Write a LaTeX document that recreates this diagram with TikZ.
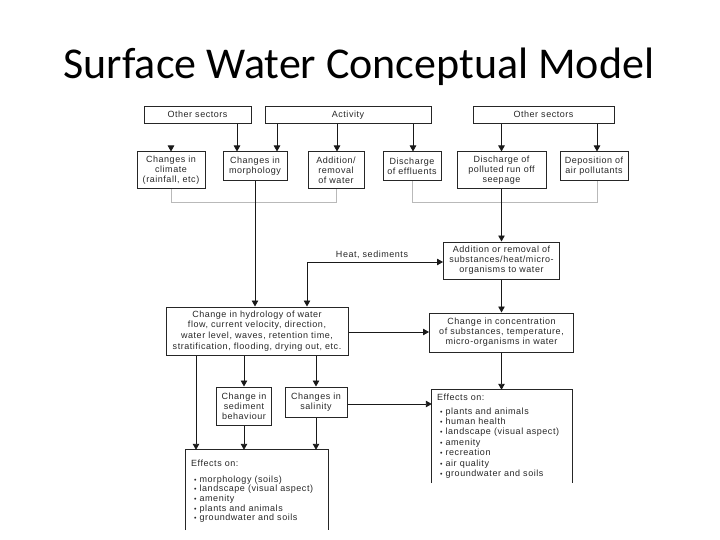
\documentclass[tikz,border=0pt]{standalone}
\usepackage{fontspec}
\setmainfont{Liberation Sans}
\newfontfamily\titlefont{Carlito}
\newfontfamily\dfam[LetterSpace=6]{Liberation Sans}
\usetikzlibrary{arrows.meta}
\newcommand{\dfont}{\dfam\fontsize{9}{10}\selectfont}
\newcommand{\bul}{\hspace*{3pt}{\fontsize{7}{7}\selectfont•}\hspace{3pt}}
\begin{document}
\begin{tikzpicture}[x=1pt,y=-1pt,
  box/.style={draw=black!85, line width=1pt, align=center, inner sep=0pt, font=\dfont, text=black!85},
  arr/.style={-{Triangle[length=6pt,width=6.5pt]}, line width=0.9pt, draw=black!90},
  dblarr/.style={{Triangle[length=6pt,width=6.5pt]}-{Triangle[length=6pt,width=6.5pt]}, line width=0.9pt, draw=black!90},
  brk/.style={draw=gray!55, line width=1pt},
  lbl/.style={font=\dfont, text=black!85, inner sep=0pt}]
\useasboundingbox (0,0) rectangle (720,540);
% title
\node[font=\titlefont\fontsize{44}{48}\selectfont, anchor=base] (title) at (359,79) {Surface Water Conceptual Model};
% top row
\node[box, minimum width=107, minimum height=17, text height=7pt, text depth=2pt] (os1) at (197.5,115.5) {Other sectors};
\node[box, minimum width=166, minimum height=17, text height=7pt, text depth=2pt] (act) at (348,115.5) {Activity};
\node[box, minimum width=141, minimum height=17, text height=7pt, text depth=2pt] (os2) at (543.5,115.5) {Other sectors};
% second row
\node[box, minimum width=68, minimum height=37] (clim) at (171,170.5) {Changes in\\climate\\(rainfall, etc)};
\node[box, minimum width=64, minimum height=29] (morph) at (255,166.5) {Changes in\\morphology};
\node[box, minimum width=56, minimum height=37] (addw) at (336,170.5) {Addition/\\removal\\of water};
\node[box, minimum width=58, minimum height=29] (effl) at (412,166.5) {Discharge\\of effluents};
\node[box, minimum width=89, minimum height=37] (poll) at (501.5,170.5) {Discharge of\\polluted run off\\seepage};
\node[box, minimum width=68, minimum height=29] (depo) at (594,166.5) {Deposition of\\air pollutants};
% arrows top -> second row
\coordinate (climtop) at (171,146.5);
\draw[arr] (climtop) -- (clim.north);
\draw[arr] (os1.south -| 237,0) -- (morph.north -| 237,0);
\draw[arr] (act.south -| 277,0) -- (morph.north -| 277,0);
\draw[arr] (act.south -| 337,0) -- (addw.north -| 337,0);
\draw[arr] (act.south -| 413,0) -- (effl.north -| 413,0);
\draw[arr] (os2.south -| 501.5,0) -- (poll.north);
\draw[arr] (os2.south -| 597,0) -- (depo.north -| 597,0);
% brackets
\draw[brk] (clim.south) -- (171,203) -- (336,203) -- (addw.south);
\draw[brk] (effl.south -| 412,0) -- (412,203) -- (597,203) -- (depo.south -| 597,0);
% middle
\node[box, minimum width=116, minimum height=37] (addsub) at (501.5,260.5) {Addition or removal of\\substances/heat/micro-\\organisms to water};
\node[box, minimum width=182, minimum height=48, font=\dfam\fontsize{9}{10.7}\selectfont] (hydro) at (257,331) {Change in hydrology of water\\flow, current velocity, direction,\\water level, waves, retention time,\\stratification, flooding, drying out, etc.};
\node[box, minimum width=144, minimum height=39] (conc) at (501.5,332.5) {Change in concentration\\of substances, temperature,\\micro-organisms in water};
\draw[arr] (morph.south) -- (hydro.north -| morph.south);
\draw[arr] (poll.south) -- (addsub.north);
\coordinate (hk) at (307,262);
\draw[dblarr] (hydro.north -| hk) -- (hk) -- (hk -| addsub.west);
\node[lbl] (heat) at (372,255) {Heat, sediments};
\draw[arr] (addsub.south) -- (conc.north);
\draw[arr] (hydro.east |- 0,332) -- (conc.west |- 0,332);
% lower
\node[box, minimum width=55, minimum height=38] (sed) at (244,406) {Change in\\sediment\\behaviour};
\node[box, minimum width=62, minimum height=30] (sal) at (316,402) {Changes in\\salinity};
\node[minimum width=142, minimum height=80, inner sep=0pt] (eff1) at (257,490) {};
\node[minimum width=140, minimum height=93, inner sep=0pt] (eff2) at (502,436.5) {};
\draw[draw=black!85, line width=1pt] (eff1.south west) -- (eff1.north west) -- (eff1.north east) -- (eff1.south east);
\draw[draw=black!85, line width=1pt] (eff2.south west) -- (eff2.north west) -- (eff2.north east) -- (eff2.south east);
\node[lbl, anchor=north west, align=left, font=\dfam\fontsize{9}{9.6}\selectfont] (eff1t) at (191,460) {Effects on:\\[6pt]\bul morphology (soils)\\\bul landscape (visual aspect)\\\bul amenity\\\bul plants and animals\\\bul groundwater and soils};
\node[lbl, anchor=north west, align=left, font=\dfam\fontsize{9}{10.4}\selectfont] (eff2t) at (437,394) {Effects on:\\[3pt]\bul plants and animals\\\bul human health\\\bul landscape (visual aspect)\\\bul amenity\\\bul recreation\\\bul air quality\\\bul groundwater and soils};
\draw[arr] (hydro.south -| 196,0) -- (eff1.north -| 196,0);
\draw[arr] (hydro.south -| sed.north) -- (sed.north);
\draw[arr] (hydro.south -| sal.north) -- (sal.north);
\draw[arr] (sed.south) -- (eff1.north -| sed.south);
\draw[arr] (sal.south) -- (eff1.north -| sal.south);
\draw[arr] (sal.east |- 0,404) -- (eff2.west |- 0,404);
\draw[arr] (conc.south) -- (eff2.north -| conc.south);
\end{tikzpicture}
\end{document}
